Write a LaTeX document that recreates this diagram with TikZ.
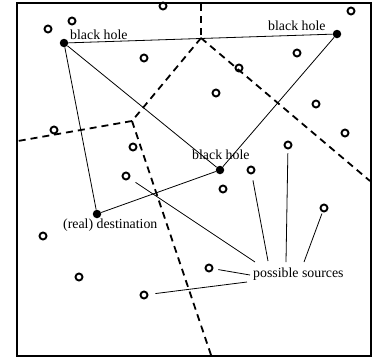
\documentclass[tikz,border=0pt]{standalone}
\usepackage{fontspec}
\setmainfont{Liberation Serif}
\begin{document}
\begin{tikzpicture}[x=1bp,y=-1bp,
  probe/.style={circle,draw,line width=1.9bp,inner sep=0pt,minimum size=7bp},
  hole/.style={circle,fill,inner sep=0pt,minimum size=8.5bp},
  link/.style={line width=0.8bp},
  border/.style={line width=1.8bp,dash pattern=on 7bp off 5bp},
  caption/.style={inner sep=0pt,font=\fontsize{13.9}{16}\selectfont}]
\useasboundingbox (0,0) rectangle (383,358);
% outer frame
\draw[line width=2bp] (17,3) rectangle (371,356);

% region borders
\coordinate (vtop) at (201,38);
\coordinate (vmid) at (132,121);
\coordinate (eTop) at (201,4);
\coordinate (eRight) at (370,181);
\coordinate (eLeft) at (18,141);
\coordinate (eBottom) at (211,355);
\draw[border] (eTop) -- (vtop);
\draw[border] (vtop) -- (eRight);
\draw[border] (vtop) -- (vmid);
\draw[border] (vmid) -- (eLeft);
\draw[border] (vmid) -- (eBottom);

% black holes and destination
\node[hole] (bh1) at (64,43) {};
\node[hole] (bh2) at (337,34) {};
\node[hole] (bh3) at (220,170) {};
\node[hole] (dst) at (97,214) {};
\draw[link] (bh1) -- (bh2);
\draw[link] (bh1) -- (bh3);
\draw[link] (bh1) -- (dst);
\draw[link] (bh2) -- (bh3);
\draw[link] (dst) -- (bh3);

\node[caption,anchor=base west] (l1) at (70,39) {black hole};
\node[caption,anchor=base west] (l2) at (268,30) {black hole};
\node[caption,anchor=base west] (l3) at (192,159) {black hole};
\node[caption,anchor=base west] (l4) at (63,228) {(real) destination};

% other nodes
\node[probe] (c1) at (48,29) {};
\node[probe] (c2) at (72,21) {};
\node[probe] (c3) at (163,6) {};
\node[probe] (c4) at (144,58) {};
\node[probe] (c5) at (54,130) {};
\node[probe] (c6) at (133,147) {};
\node[probe] (c7) at (126,176) {};
\node[probe] (c8) at (351,11) {};
\node[probe] (c9) at (297,53) {};
\node[probe] (c10) at (239,68) {};
\node[probe] (c11) at (216,93) {};
\node[probe] (c12) at (316,104) {};
\node[probe] (c13) at (345,133) {};
\node[probe] (c14) at (288,145) {};
\node[probe] (c15) at (251,170) {};
\node[probe] (c16) at (223,189) {};
\node[probe] (c17) at (324,208) {};
\node[probe] (c18) at (209,268) {};
\node[probe] (c19) at (43,236) {};
\node[probe] (c20) at (79,277) {};
\node[probe] (c21) at (144,295) {};

% candidate sources
\node[caption,anchor=base west] (src) at (253,277) {possible sources};
\coordinate (s1) at (255,262);
\coordinate (s2) at (268,261);
\coordinate (s3) at (286,262);
\coordinate (s4) at (304,262);
\coordinate (s5) at (250,275);
\coordinate (s6) at (247,282);
\draw[link,shorten <=7bp] (c7) -- (s1);
\draw[link,shorten <=6bp] (c15) -- (s2);
\draw[link,shorten <=4bp] (c14) -- (s3);
\draw[link,shorten <=1.5bp] (c17) -- (s4);
\draw[link,shorten <=5bp] (c18) -- (s5);
\draw[link,shorten <=7bp] (c21) -- (s6);
\end{tikzpicture}
\end{document}
